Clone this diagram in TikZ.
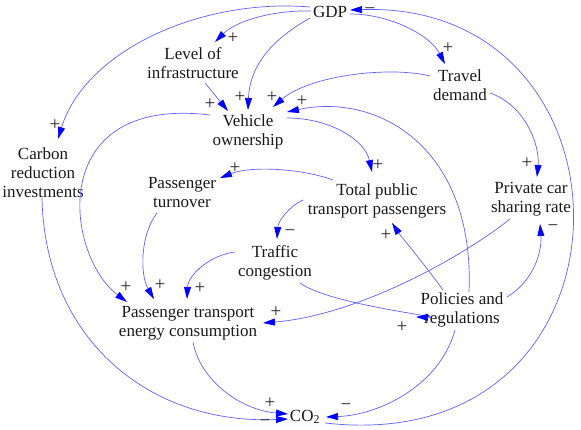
\documentclass[tikz,border=0pt]{standalone}
\usepackage{fontspec}
\setmainfont{Liberation Serif}
\usetikzlibrary{arrows.meta}
\begin{document}
\begin{tikzpicture}[x=1pt,y=-1pt,
  lbl/.style={font=\fontsize{17}{19}\selectfont, align=center, inner sep=0pt, text={black!90}},
  sgn/.style={font=\fontsize{19}{19}\selectfont, inner sep=0pt, text={black!85}},
  lnk/.style={draw={rgb,255:red,95;green,95;blue,255}, line width=0.7pt,
              -{Triangle[length=12pt,width=7pt,color=blue]}}
]
\useasboundingbox (0,0) rectangle (581,430);
% nodes
\node[lbl] (gdp)  at (330,12)  {GDP};
\node[lbl] (lev)  at (193,63)  {Level of\\infrastructure};
\node[lbl] (trav) at (460,85)  {Travel\\demand};
\node[lbl] (veh)  at (248,132) {Vehicle\\ownership};
\node[lbl] (carb) at (43,173)  {Carbon\\reduction\\investments};
\node[lbl] (turn) at (182,193) {Passenger\\turnover};
\node[lbl] (tot)  at (377,201) {Total public\\transport passengers};
\node[lbl] (priv) at (531,199) {Private car\\sharing rate};
\node[lbl] (traf) at (275,263) {Traffic\\congestion};
\node[lbl] (ptec) at (188,323) {Passenger transport\\energy consumption};
\node[lbl] (pol)  at (462,310) {Policies and\\regulations};
\node[lbl] (co2)  at (305,417) {CO\textsubscript{2}};
% connectors
\draw[lnk] ([shift={(-20,-5)}]gdp.center) .. controls +(-110,-9) and +(27,-88) .. ([shift={(15,-34)}]carb.center);
\draw[lnk] ([shift={(-19,-1)}]gdp.center) .. controls +(-41,-1) and +(20,-20) .. ([shift={(22,-21)}]lev.center);
\draw[lnk] ([shift={(-20,6)}]gdp.center) .. controls +(-30,17) and +(2,-50) .. ([shift={(0,-22)}]veh.center);
\draw[lnk] ([shift={(12,20)}]lev.center) -- ([shift={(-20,-21)}]veh.center);
\draw[lnk] ([shift={(20,2)}]gdp.center) .. controls +(40,0) and +(-15,-29) .. ([shift={(-15,-21)}]trav.center);
\draw[lnk] ([shift={(20,6)}]co2.center) .. controls +(325,37) and +(300,-10) .. ([shift={(20,-2)}]gdp.center);
\draw[lnk] ([shift={(-30,-9)}]trav.center) .. controls +(-40,-10) and +(37,-32) .. ([shift={(25,-25)}]veh.center);
\draw[lnk] ([shift={(7,-18)}]pol.center) .. controls +(6,-142) and +(93,-20) .. ([shift={(39,-20)}]veh.center);
\draw[lnk] ([shift={(39,-14)}]veh.center) .. controls +(43,0) and +(-7,-32) .. ([shift={(-5,-29)}]tot.center);
\draw[lnk] ([shift={(-38,-17)}]veh.center) .. controls +(-165,-20) and +(-62,-47) .. ([shift={(-61,-21)}]ptec.center);
\draw[lnk] ([shift={(-1,25)}]carb.center) .. controls +(3,142) and +(-138,6) .. ([shift={(-17,2)}]co2.center);
\draw[lnk] ([shift={(5,19)}]ptec.center) .. controls +(7,38) and +(-48,-4) .. ([shift={(-17,-3)}]co2.center);
\draw[lnk] ([shift={(-7,20)}]pol.center) .. controls +(-15,55) and +(54,-2) .. ([shift={(21,0)}]co2.center);
\draw[lnk] ([shift={(30,8)}]trav.center) .. controls +(35,12) and +(3,-32) .. ([shift={(6,-22)}]priv.center);
\draw[lnk] ([shift={(-21,20)}]priv.center) .. controls +(-45,36) and +(97,-8) .. ([shift={(75,0)}]ptec.center);
\draw[lnk] ([shift={(45,-13)}]pol.center) .. controls +(28,-17) and +(2,26) .. ([shift={(9,25)}]priv.center);
\draw[lnk] ([shift={(-19,-20)}]pol.center) .. controls +(-18,-25) and +(8,12) .. ([shift={(15,22)}]tot.center);
\draw[lnk] ([shift={(-44,-21)}]tot.center) .. controls +(-33,-12) and +(30,-12) .. ([shift={(38,-15)}]turn.center);
\draw[lnk] ([shift={(-74,-1)}]tot.center) .. controls +(-15,7) and +(1,-17) .. ([shift={(2,-24)}]traf.center);
\draw[lnk] ([shift={(-25,20)}]turn.center) .. controls +(-17,22) and +(-14,-24) .. ([shift={(-34,-24)}]ptec.center);
\draw[lnk] ([shift={(-40,-11)}]traf.center) .. controls +(-25,3) and +(1,-24) .. ([shift={(-1,-24)}]ptec.center);
\draw[lnk] ([shift={(25,20)}]traf.center) .. controls +(30,22) and +(36,1) .. ([shift={(-46,7)}]pol.center);
% polarity signs
\node[sgn] (s1)  at (55,125)  {+};
\node[sgn] (s2)  at (233,38)  {+};
\node[sgn] (s3)  at (240,97)  {+};
\node[sgn] (s4)  at (210,104) {+};
\node[sgn] (s5)  at (448,48)  {+};
\node[sgn] (s6)  at (370,11)  {−};
\node[sgn] (s7)  at (272,97)  {+};
\node[sgn] (s8)  at (302,101) {+};
\node[sgn] (s9)  at (378,165) {+};
\node[sgn] (s10) at (126,287) {+};
\node[sgn] (s11) at (265,423) {−};
\node[sgn] (s12) at (270,403) {+};
\node[sgn] (s13) at (346,407) {−};
\node[sgn] (s14) at (527,163) {+};
\node[sgn] (s15) at (276,312) {+};
\node[sgn] (s16) at (553,228) {−};
\node[sgn] (s17) at (386,235) {+};
\node[sgn] (s18) at (235,168) {+};
\node[sgn] (s19) at (290,233) {−};
\node[sgn] (s20) at (160,285) {+};
\node[sgn] (s21) at (200,288) {+};
\node[sgn] (s22) at (402,327) {+};
\end{tikzpicture}
\end{document}
